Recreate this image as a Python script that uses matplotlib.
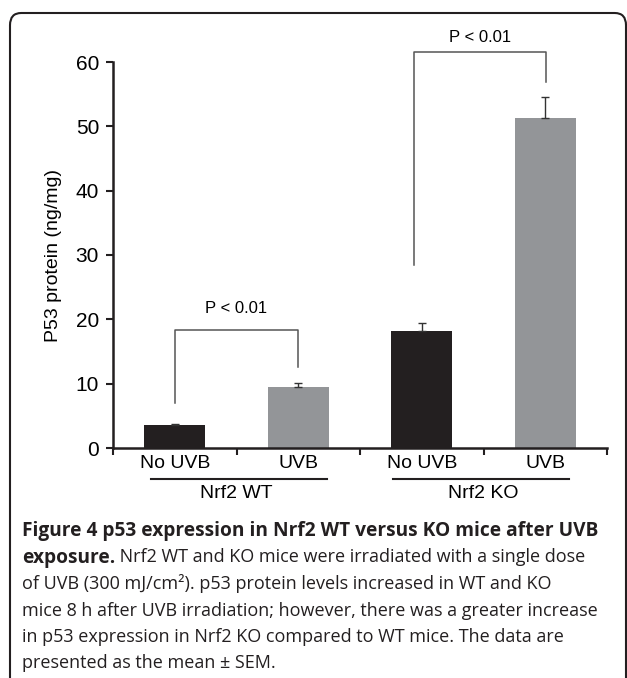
import matplotlib
matplotlib.use("Agg")
import matplotlib.pyplot as plt
from matplotlib.patches import FancyBboxPatch
from matplotlib.transforms import blended_transform_factory

# data
categories = ["No UVB", "UVB", "No UVB", "UVB"]
groups = ["Nrf2 WT", "Nrf2 KO"]
values = [3.6, 9.5, 18.2, 51.3]
sem = [0.1, 0.6, 1.3, 3.3]
bar_colors = ["#231f20", "#939598", "#231f20", "#939598"]
yticks = [0, 10, 20, 30, 40, 50, 60]
p_label = "P < 0.01"

caption_bold = "Figure 4 p53 expression in Nrf2 WT versus KO mice after UVB"
caption_bold2 = "exposure."
caption_rest2 = " Nrf2 WT and KO mice were irradiated with a single dose"
caption_lines = [
    "of UVB (300 mJ/cm\u00b2). p53 protein levels increased in WT and KO",
    "mice 8 h after UVB irradiation; however, there was a greater increase",
    "in p53 expression in Nrf2 KO compared to WT mice. The data are",
    "presented as the mean \u00b1 SEM.",
]

W, H = 627, 678
fig = plt.figure(figsize=(W / 100, H / 100), dpi=100)
plt.rcParams['font.family'] = ['Liberation Sans', 'DejaVu Sans']

# frame around the figure (rounded corner, cut off at bottom/right)
frame = FancyBboxPatch((10 / W, 1 - 700 / H), (626 - 10) / W, (700 - 13) / H,
                       boxstyle="round,pad=0,rounding_size=0.018",
                       transform=fig.transFigure, fill=False,
                       edgecolor="#231f20", linewidth=1.5, clip_on=False)
fig.patches.append(frame)

ax = fig.add_axes([113 / W, 1 - 448 / H, (607 - 113) / W, 386 / H])
x = [i + 0.5 for i in range(len(values))]
ax.bar(x, values, width=0.49, color=bar_colors, zorder=2)
ax.errorbar(x, values, yerr=[[0] * len(sem), sem], fmt="none",
            ecolor="#333333", elinewidth=1, capsize=3, capthick=1, zorder=3)

ax.set_xlim(0, 4)
ax.set_ylim(0, 60)
ax.set_yticks(yticks)
ax.set_xticks([0, 1, 2, 3, 4])
ax.set_xticklabels([])
ax.set_xticks(x, minor=True)
ax.set_xticklabels(categories, minor=True)
ax.tick_params(axis="x", which="minor", length=0, pad=5, labelsize=14)
ax.tick_params(axis="x", which="major", direction="out", length=5, width=1.5,
               color="#231f20")
ax.tick_params(axis="y", direction="out", length=5, width=1.5,
               color="#231f20", labelsize=15, pad=5)
for s in ["top", "right"]:
    ax.spines[s].set_visible(False)
for s in ["left", "bottom"]:
    ax.spines[s].set_linewidth(1.8)
    ax.spines[s].set_color("#231f20")
ax.set_ylabel("P53 protein (ng/mg)", fontsize=14, labelpad=10)

# significance brackets
bc = "#555555"
ax.plot([0.5, 0.5, 1.5, 1.5], [7.0, 18.3, 18.3, 12.6], color=bc, lw=1.1,
        clip_on=False)
ax.text(1.0, 20.5, p_label, ha="center", va="bottom", fontsize=12)
ax.plot([2.44, 2.44, 3.51, 3.51], [28.4, 61.6, 61.6, 56.9], color=bc, lw=1.1,
        clip_on=False)
ax.text(2.97, 62.6, p_label, ha="center", va="bottom", fontsize=12,
        clip_on=False)

# group labels with underline
tr = blended_transform_factory(ax.transData, ax.transAxes)
ax.plot([0.31, 1.73], [-0.080, -0.080], color="#231f20", lw=1.5,
        transform=tr, clip_on=False)
ax.plot([2.27, 3.69], [-0.080, -0.080], color="#231f20", lw=1.5,
        transform=tr, clip_on=False)
ax.text(1.0, -0.117, groups[0], transform=tr, ha="center", va="center",
        fontsize=14)
ax.text(3.0, -0.117, groups[1], transform=tr, ha="center", va="center",
        fontsize=14)

# caption, font sizes fitted to the line widths seen in the reference
cap_font = ["Open Sans", "DejaVu Sans"]
x0 = 22 / W
fig.canvas.draw()
r = fig.canvas.get_renderer()


def fit_size(text, target, **kw):
    probe = fig.text(x0, 0.5, text, family=cap_font, fontsize=14, **kw)
    wpx = probe.get_window_extent(r).width
    probe.remove()
    return 14 * target / wpx


bs = fit_size(caption_bold, 577, weight="bold")
rs = fit_size(caption_lines[1], 580)

baselines = [536, 562.5, 589, 615.5, 642, 668.5]
fig.text(x0, 1 - baselines[0] / H, caption_bold, family=cap_font,
         weight="bold", fontsize=bs, va="baseline", color="#231f20")
t2 = fig.text(x0, 1 - baselines[1] / H, caption_bold2, family=cap_font,
              weight="bold", fontsize=bs, va="baseline", color="#231f20")
fig.canvas.draw()
x1 = t2.get_window_extent(r).x1 / W
fig.text(x1, 1 - baselines[1] / H, caption_rest2, family=cap_font,
         fontsize=rs, va="baseline", color="#231f20")
for line, b in zip(caption_lines, baselines[2:]):
    fig.text(x0, 1 - b / H, line, family=cap_font, fontsize=rs,
             va="baseline", color="#231f20")

fig.savefig("out.png", dpi=100)
